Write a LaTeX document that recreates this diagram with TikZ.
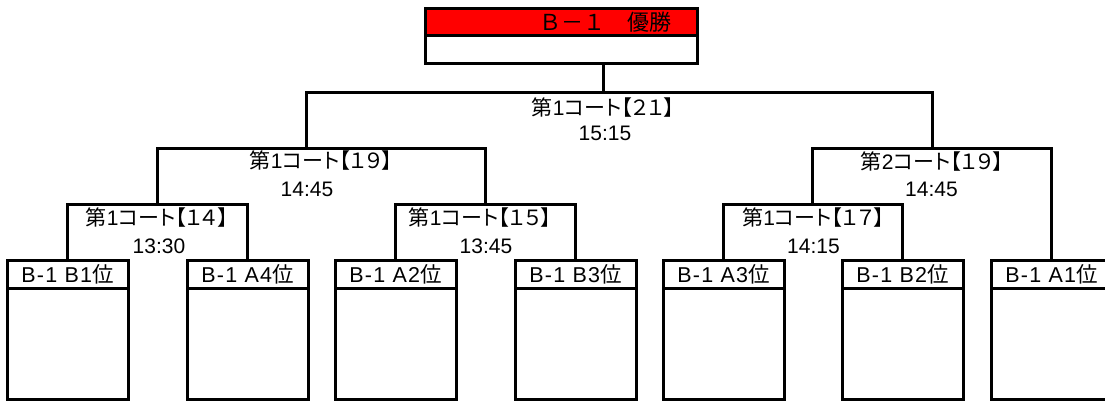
\documentclass[tikz,border=0pt]{standalone}
\usepackage{fontspec}
\setmainfont{Liberation Sans}
\newfontfamily\jp[RawFeature=+palt]{Noto Sans CJK JP}
\newfontfamily\jpw{Noto Sans CJK JP}
\newfontfamily\hd[LetterSpace=6]{Liberation Sans}
\definecolor{champred}{RGB}{255,0,0}
\begin{document}
\begin{tikzpicture}[x=1pt,y=-1pt,line width=3pt,
  teamhead/.style={draw,minimum width=121pt,minimum height=28pt,inner sep=0pt,font=\hd\fontsize{21.5}{24}\selectfont},
  teambody/.style={draw,minimum width=121pt,minimum height=111pt,inner sep=0pt},
  champhead/.style={draw,fill=champred,minimum width=272pt,minimum height=27pt,inner sep=0pt},
  champbody/.style={draw,fill=white,minimum width=272pt,minimum height=28pt,inner sep=0pt},
  lbl/.style={inner sep=0pt,font=\fontsize{21}{24}\selectfont},
  bracket/.style={draw,line width=3pt}]
\useasboundingbox (0,0) rectangle (1105,401);
% champion
\node[champhead] (champ) at (561,22.5) {};
\node[champbody] (champB) at (561,50) {};
\node[lbl,font=\fontsize{22}{24}\selectfont] (champT) at (605,22.5) {\jpw Ｂ－１　優勝};
% team boxes
\foreach \n/\x/\t in {1/67.5/B1,2/247.5/A4,3/395.5/A2,4/575.5/B3,5/723.5/A3,6/902.5/B2,7/1051.5/A1}{
  \node[teambody] (t\n) at (\x,343.5) {};
  \node[teamhead] (h\n) at (\x,274) {B-1 \t{\jp 位}};
}
% junctions
\coordinate (j21) at (603,93);
\coordinate (j19a) at (306,148);
\coordinate (j19b) at (932,148);
\coordinate (j14) at (157,204);
\coordinate (j15) at (485,204);
\coordinate (j17) at (812,204);
% connectors
\draw[bracket] (champB.south -| j21) -- (j21);
\draw[bracket] (j19a) |- (j21) -| (j19b);
\draw[bracket] (j14) |- (j19a) -| (j15);
\draw[bracket] (j17) |- (j19b) -| (h7.north);
\draw[bracket] (h1.north) |- (j14) -| (h2.north);
\draw[bracket] (h3.north) |- (j15) -| (h4.north);
\draw[bracket] (h5.north) |- (j17) -| (h6.north);
% match labels
\node[lbl] (c21) at (603,108) {{\jp 第}1{\jp コート【２１】}};
\node[lbl] (s21) at (605,133) {15:15};
\node[lbl] (c19a) at (321,161) {{\jp 第}1{\jp コート【１９】}};
\node[lbl] (s19a) at (307,189) {14:45};
\node[lbl] (c19b) at (932,162) {{\jp 第}2{\jp コート【１９】}};
\node[lbl] (s19b) at (931.5,189) {14:45};
\node[lbl] (c14) at (157,218) {{\jp 第}1{\jp コート【１４】}};
\node[lbl] (s14) at (159,246) {13:30};
\node[lbl] (c15) at (480,218) {{\jp 第}1{\jp コート【１５】}};
\node[lbl] (s15) at (486,246) {13:45};
\node[lbl] (c17) at (813.5,218) {{\jp 第}1{\jp コート【１７】}};
\node[lbl] (s17) at (813.5,246) {14:15};
\end{tikzpicture}
\end{document}
